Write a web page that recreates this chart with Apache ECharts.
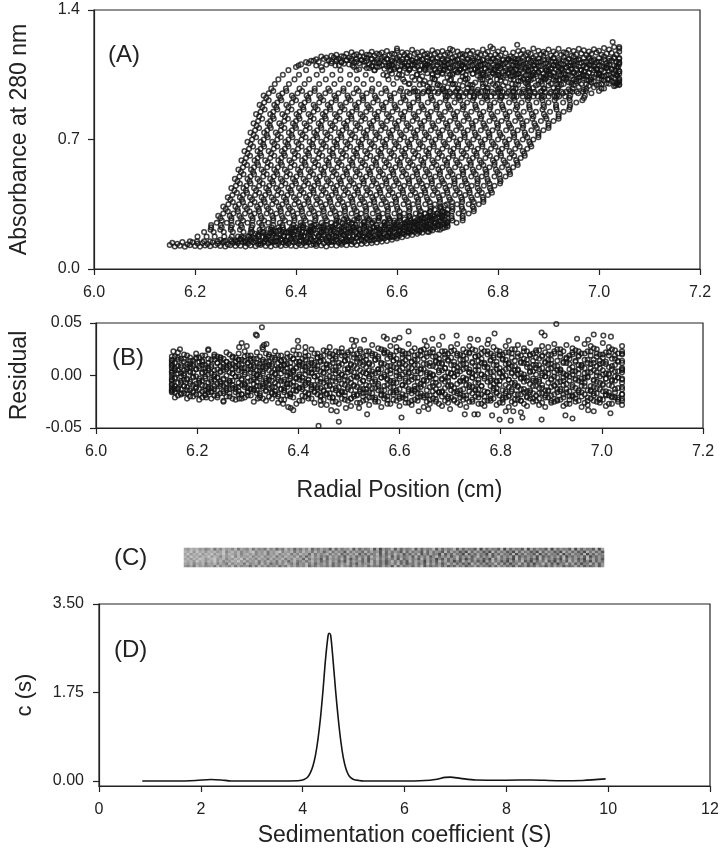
<!DOCTYPE html>
<html><head><meta charset="utf-8">
<style>html,body{margin:0;padding:0;background:#fff}#c{width:722px;height:853px}</style>
<script src="https://cdn.jsdelivr.net/npm/echarts@6/dist/echarts.min.js"></script>
</head><body><div id="c"></div>
<script>
// Panel A: radial positions (thousandths of a cm beyond 6.0) at which each scan crosses an absorbance level
const L150=[190,204,218,230,245,257,272,284,299,311,326,338,353,365,380,392,407,419,434,446,461,473,488,500];
const L175=[205,223,239,258,273,292,307,326,342,361,376,395,410,429,445,464,479,498,513,532,548,567,582,600];
const L200=[218,237,257,275,296,313,335,352,373,391,412,429,451,468,489,507,528,545,567,584,605,623,644,663];
const L212=[231,250,271,289,311,328,350,368,389,407,429,447,469,486,508,526,547,565,587,605,626,644,666,685];
const L225=[232,253,271,293,312,334,352,374,392,414,432,455,473,495,513,535,553,575,593,616,634,656,674,695];
const L237=[232,251,273,291,314,332,355,373,395,414,436,455,477,496,518,536,559,577,599,618,640,659,681,700];
const L250=[243,263,285,304,327,345,368,387,409,428,451,470,492,511,534,552,575,594,616,635,658,676,699,718];
const L262=[253,272,295,314,337,355,378,397,419,438,461,480,503,521,544,563,586,605,627,646,669,687,710,730];
const L275=[250,272,291,314,332,355,374,397,416,439,458,481,500,522,541,564,583,606,625,648,667,690,708,730];
const L287=[246,269,288,311,330,353,372,395,414,437,456,479,498,520,539,563,582,605,624,647,666,689,708,730];
const L300=[256,276,299,318,342,361,384,403,426,445,468,487,510,529,552,572,595,614,637,656,679,699,722,742];
const L312=[265,285,308,327,350,370,393,412,435,455,477,497,520,539,562,582,605,624,647,666,690,709,732,752];
const L325=[261,284,303,326,345,369,388,411,431,454,473,497,516,539,559,582,601,625,644,667,687,710,729,752];
const L337=[256,280,299,323,342,366,385,408,428,451,471,495,514,537,557,580,600,623,643,666,686,709,728,750];
const L350=[266,287,310,330,353,373,397,416,440,459,483,503,526,546,569,589,613,632,656,675,699,719,742,762];
const L362=[275,295,318,338,361,381,405,425,448,468,492,512,535,555,578,598,622,642,665,685,709,729,752,771];
const L375=[270,293,313,336,356,380,400,424,443,467,487,511,531,554,574,598,618,642,661,685,705,729,749,771];
const L387=[265,289,309,332,352,376,396,420,440,464,484,508,528,551,571,595,615,639,659,683,703,727,747,770];
const L400=[274,295,319,339,363,383,407,427,451,471,495,515,539,559,583,603,627,647,671,691,715,735,759,780];
const L412=[283,303,327,347,371,391,415,435,459,479,503,523,547,567,591,612,636,656,680,700,724,744,768,788];
const L425=[278,301,321,345,365,389,410,434,454,478,498,522,542,566,586,611,631,655,675,699,719,743,763,786];
const L437=[272,296,317,341,361,385,406,430,450,474,494,518,539,563,583,607,628,652,672,696,716,740,760,784];
const L450=[281,302,327,347,371,392,416,436,460,481,505,525,550,570,594,614,639,659,683,704,728,748,772,793];
const L462=[289,310,334,355,379,400,424,444,469,489,514,534,559,579,603,624,649,669,693,714,738,759,783,804];
const L475=[284,308,328,353,373,398,419,443,464,488,509,534,554,579,599,624,645,669,690,714,735,760,780,805];
const L487=[279,304,324,349,370,394,415,440,461,485,506,531,552,576,597,622,643,667,688,713,734,759,779,804];
const L500=[288,310,335,356,381,401,426,447,472,493,518,539,564,585,610,631,655,676,701,722,747,768,793,815];
const L512=[296,317,342,363,388,409,434,455,480,501,526,547,572,593,618,640,664,685,710,731,756,777,803,824];
const L525=[291,315,336,361,382,408,429,454,475,500,521,546,567,592,613,639,660,685,706,731,752,777,799,823];
const L537=[286,311,332,357,378,404,425,450,471,497,518,543,564,589,610,636,657,682,703,729,750,775,796,821];
const L550=[295,317,343,364,389,411,436,457,482,504,529,550,576,597,622,643,669,690,715,737,762,783,808,830];
const L562=[303,325,350,372,397,419,444,465,490,512,537,559,584,606,631,652,678,699,724,746,771,793,818,839];
const L575=[298,323,344,370,391,417,438,464,485,511,532,558,579,605,626,652,673,699,720,746,767,793,814,838];
const L587=[292,318,339,365,387,412,434,460,481,507,528,554,575,601,622,648,670,695,717,743,764,790,811,836];
const L600=[301,324,349,371,397,418,444,466,491,513,539,560,586,608,633,655,681,702,728,750,775,797,823,845];
const L612=[309,331,357,378,404,426,452,474,499,521,547,569,594,616,642,663,689,711,737,758,784,806,832,853];
const L625=[304,329,351,376,398,424,446,472,493,519,541,567,589,614,636,662,684,710,732,757,779,805,827,852];
const L637=[298,324,346,372,394,420,441,467,489,515,537,563,585,610,632,658,680,706,728,753,775,801,823,849];
const L650=[307,330,356,378,404,426,451,473,499,521,547,569,595,617,643,664,690,712,738,760,786,808,834,858];
const L662=[315,337,363,385,411,434,459,481,507,529,555,577,603,625,651,673,699,721,747,769,795,817,843,866];
const L675=[310,335,357,383,405,432,454,480,502,528,550,576,598,624,646,672,695,721,743,769,791,817,839,864];
const L687=[304,330,353,379,401,427,450,476,498,524,546,572,595,621,643,669,692,718,740,766,788,814,837,862];
const L700=[313,336,363,385,411,434,460,482,508,531,557,579,606,628,654,676,703,725,751,774,800,822,849,870];
const L712=[321,344,370,393,419,442,468,490,517,539,565,588,614,637,663,685,712,734,761,783,809,832,858,880];
const L725=[316,342,364,391,413,440,462,489,511,538,560,587,609,636,658,685,707,734,756,783,805,832,854,880];
const L737=[310,337,360,386,409,436,458,485,507,534,557,584,606,633,655,682,705,732,754,781,803,830,853,880];
const L750=[319,343,370,392,419,442,469,492,518,541,568,591,618,640,667,690,717,740,766,789,816,839,866,890];
const L762=[327,350,377,400,427,450,477,500,527,550,577,600,627,649,676,700,727,750,776,799,826,849,877,900];
const L775=[322,348,371,398,421,449,472,499,522,549,572,599,622,649,672,700,723,750,773,800,823,850,874,900];
const L787=[316,344,367,394,417,445,468,495,518,546,569,596,619,646,670,697,720,748,771,798,821,848,872,900];
const L800=[325,349,377,400,428,451,478,502,529,553,580,603,631,654,682,705,732,756,783,807,834,857,885,910];
const L812=[333,356,384,407,435,459,486,510,537,561,589,612,640,663,691,715,742,766,793,817,845,868,896,920];
const L825=[327,354,378,405,429,457,481,509,532,560,584,612,636,663,687,715,739,767,790,818,842,870,894,920];
const L837=[321,349,373,401,425,453,477,505,528,556,580,608,633,660,684,712,736,764,787,815,839,867,891,920];
const L850=[330,355,383,407,435,459,487,511,539,563,591,615,643,667,695,719,747,771,799,823,851,875,903,930];
const L862=[338,363,391,415,443,468,496,520,548,573,601,625,653,678,706,730,758,783,811,835,863,888,916,941];
const L875=[333,361,385,414,438,467,491,520,544,573,597,626,650,679,703,732,756,785,809,838,862,891,915,942];
const L887=[328,357,381,410,435,463,488,517,541,570,595,624,648,677,701,730,755,784,808,837,862,890,915,943];
const L900=[337,363,392,417,446,470,499,524,553,578,607,632,661,685,714,739,768,793,822,847,876,900,929,955];
const L912=[346,371,400,425,454,479,508,533,562,588,617,642,671,696,725,750,779,804,833,859,888,912,942,967];
const L925=[341,369,395,424,449,479,504,533,558,588,613,642,668,697,722,752,777,806,831,861,886,915,941,970];
const L937=[336,366,392,421,446,476,502,531,556,586,612,641,667,696,722,752,777,806,832,862,887,917,943,972];
const L950=[346,373,403,428,458,484,514,540,569,595,625,651,681,706,736,762,792,818,847,873,903,929,959,985];
const L962=[355,381,412,437,467,494,524,550,579,606,636,662,692,718,748,775,804,831,861,887,917,943,974,1000];
const L975=[351,380,407,437,464,494,520,551,577,608,634,664,691,721,748,778,804,835,861,892,918,948,975,1005];
const L1000=[358,386,417,446,476,505,534,564,593,623,652,681,711,740,770,799,828,858,887,917,946,975,1005,1035];
const L1025=[365,397,426,459,488,521,550,583,612,645,674,707,736,769,798,831,860,893,922,955,984,1017];
const L1050=[374,406,441,472,507,538,573,604,639,670,705,736,771,802,837,868,903,934,969,1000,1034];
const L1075=[385,420,452,488,520,556,588,624,656,692,724,760,792,828,860,896,928,964,996,1032];
const L1100=[405,440,478,512,550,584,622,656,694,728,766,800,838,872,910,944,982,1016];
const L958=[620,632,641,653,662,674,683,695,704,716,725,737,746,758,767,779,788,800,809,821,830,842,851,863,872,884,893,905,914,926,935,947,956,968];
const L933=[700,711,723,732,744,753,765,774,786,795,807,816,828,837,849,858,870,879,891,900,912,921,933];
const absorbanceLevels=[150,175,200,212,225,237,250,262,275,287,300,312,325,337,350,362,375,387,400,412,425,437,450,462,475,487,500,512,525,537,550,562,575,587,600,612,625,637,650,662,675,687,700,712,725,737,750,762,775,787,800,812,825,837,850,862,875,887,900,912,925,937,950,962,975,1000,1025,1050,1075,1100,958,933];
const radialAtLevel=[L150,L175,L200,L212,L225,L237,L250,L262,L275,L287,L300,L312,L325,L337,L350,L362,L375,L387,L400,L412,L425,L437,L450,L462,L475,L487,L500,L512,L525,L537,L550,L562,L575,L587,L600,L612,L625,L637,L650,L662,L675,L687,L700,L712,L725,L737,L750,L762,L775,L787,L800,L812,L825,L837,L850,L862,L875,L887,L900,L912,L925,L937,L950,L962,L975,L1000,L1025,L1050,L1075,L1100,L958,L933];

// Panel A: plateau rows (each row ends at the right-hand end of its radial grid)
const plateauRadialA=[400,410,420,430,440,450,460,470,480,490,500,510,520,530,540,550,560,570,580,590,600,610,620,630,640,650,660,670,680,690,700,710,720,730,740,750,760,770,780,790,800,810,820,830,840,850,860,870,880,890,900,910,920,930,940,950,960,970,980,990,1000,1010,1020,1030,1040];
const plateauRadialB=[405,415,425,435,445,455,465,475,485,495,505,515,525,535,545,555,565,575,585,595,605,615,625,635,645,655,665,675,685,695,705,715,725,735,745,755,765,775,785,795,805,815,825,835,845,855,865,875,885,895,905,915,925,935,945,955,965,975,985,995,1005,1015,1025,1035];
const plateauA1=[1092,1106,1118,1126,1134,1148,1143,1152,1158,1150,1163,1171,1160,1172,1158,1174,1165,1170,1178,1163,1180,1172,1168,1185,1170,1176,1164,1182,1173,1178,1168,1184,1175,1162,1180,1178,1170,1186,1174,1192,1176,1188,1136,1170,1178,1184,1170,1192,1180,1174,1186,1176,1190,1172,1184,1178,1190,1182,1176,1188,1180,1194,1186,1200,1192];
const plateauB1=[1112,1126,1120,1135,1128,1144,1136,1148,1142,1155,1150,1146,1158,1152,1160,1148,1156,1162,1150,1158,1153,1163,1149,1160,1155,1164,1151,1158,1162,1150,1160,1156,1165,1148,1158,1162,1152,1160,1155,1166,1150,1135,1160,1156,1163,1152,1160,1166,1154,1162,1158,1168,1152,1160,1165,1156,1162,1170,1158,1164,1168,1160];
const plateauA2=[1092,1104,1112,1124,1118,1130,1126,1136,1128,1140,1134,1130,1142,1136,1128,1140,1133,1143,1130,1138,1134,1145,1131,1140,1136,1128,1142,1134,1146,1132,1138,1144,1130,1140,1135,1146,1133,1128,1141,1136,1147,1132,1140,1137,1148,1134,1142,1130,1144,1138,1148,1135,1141,1146,1134,1140,1148,1138,1144,1136];
const plateauB2=[1102,1110,1106,1116,1112,1120,1108,1118,1114,1122,1110,1119,1124,1112,1120,1116,1125,1110,1118,1123,1113,1121,1117,1126,1111,1119,1124,1114,1122,1108,1120,1126,1112,1118,1124,1115,1121,1110,1127,1116,1122,1112,1125,1118,1110,1123,1116,1128,1113,1120,1125,1117,1122,1112,1127,1119];
const plateauA3=[1086,1094,1090,1100,1096,1104,1092,1102,1098,1106,1093,1101,1105,1095,1103,1098,1107,1091,1100,1104,1096,1102,1090,1106,1098,1103,1094,1108,1097,1101,1092,1105,1099,1103,1093,1107,1096,1102,1090,1104,1098,1108,1094,1100,1106,1096,1103,1092,1105,1099,1107];
const plateauB3=[1072,1080,1076,1086,1078,1084,1074,1082,1088,1076,1083,1079,1086,1073,1081,1087,1077,1084,1075,1082,1089,1078,1083,1072,1086,1080,1076,1088,1079,1084,1074,1087,1081,1077,1085,1090,1078,1082,1075,1088,1080,1084,1076,1089,1081,1086];
const plateauA4=[1056,1064,1060,1070,1058,1066,1062,1071,1055,1067,1061,1072,1057,1065,1069,1059,1068,1054,1063,1070,1060,1066,1056,1072,1062,1068,1058,1070,1064,1055,1067,1061,1073,1059,1065,1070,1057,1068];
const plateauB4=[1036,1044,1040,1050,1038,1046,1042,1052,1035,1047,1041,1053,1037,1045,1049,1039,1048,1034,1043,1051,1040,1046,1036,1052,1042,1048,1038,1050];
const plateauA5=[1016,1024,1012,1028,1020,1030,1014,1026,1018,1032,1010,1024,1016,1030,1020,1012,1028,1018,1026,1008,1022];
const plateauA6=[1122,1132,1118,1128,1136,1120,1130,1124,1138,1118,1128,1134,1122,1130,1118,1136,1126,1120,1132,1124,1138,1118,1128,1134,1122,1130,1118,1136,1126,1120,1132,1124,1138,1118,1128,1134,1122,1130,1118,1136,1126,1120,1132,1124,1138,1118,1128,1134,1122,1130,1118,1136,1126,1120,1132,1124,1138,1118];
const plateauB5=[1092,1080,1098,1086,1074,1094,1082,1100,1088,1076,1096,1084,1102,1078,1090,1098,1082,1072,1094,1086,1100,1076,1088,1096,1080,1102,1084,1074,1092,1098,1086,1078,1100,1090,1076,1094,1082,1098,1074,1088,1102,1080,1092,1084,1098,1076,1090,1100,1082,1094,1086,1078,1096];
const plateauA7=[1044,1056,1034,1048,1060,1038,1052,1042,1058,1032,1046,1054,1036,1050,1062,1040,1030,1056,1044,1052,1034,1060,1048,1038,1054,1042,1058,1032,1050,1046,1062,1036,1056,1040,1052,1030,1048,1058,1034,1044,1060,1038,1054,1042,1050,1032,1056];
const plateauB6=[1012,1002,1022,996,1016,1006,1026,992,1010,1020,1000,1018,1028,994,1008,1024,1004,1014,990,1020,1010,1026,998,1016,1006,1022,992,1012,1028,1002,1018,996,1024,1008,1014,1000,1020,1010,994,1026,1004,1016,1002];
const plateauA8=[988,976,994,970,982,998,974,990,978,996,968,986,980,1000,972,992,984,976,996,970,988,980,998,974,992,978,986,1000,972,994,984,970,990,982,996,976,1002,988,994];
const plateauOutliersX=[1027,785,838,705,600,1040,1040,1040,1040,1038,1040,1036,1040,1040,1040,1033,1037];
const plateauOutliersY=[1227,1203,1212,1190,1192,1200,1175,1140,1115,1090,1068,1045,1030,1012,998,992,1006];

// Panel A: baseline rows
const baseRadialA=[150,160,170,180,190,200,210,220,230,240,250,260,270,280,290,300,310,320,330,340,350,360,370,380,390,400,410,420,430,440,450,460,470,480,490,500,510,520,530,540,550,560,570,580,590,600,610,620,630,640,650,660,670,680,690,700];
const baseRadialB=[155,165,175,185,195,205,215,225,235,245,255,265,275,285,295,305,315,325,335,345,355,365,375,385,395,405,415,425,435,445,455,465,475,485,495,505,515,525,535,545,555,565,575,585,595,605,615,625,635,645,655,665,675,685,695];
const baseA1=[130,122,126,120,128,124,121,127,123,129,125,122,128,124,126,121,127,123,130,125,122,128,124,129,126,123,128,125,130,124,127,122,129,126,131,128,133,130,135,138,140,143,148,152,158,165,172,178,184,190,196,202,208,214,220,228];
const baseB1=[142,136,146,134,144,138,140,135,145,137,143,133,141,139,147,136,144,134,142,138,146,135,143,137,145,136,141,144,134,147,139,143,148,141,146,150,144,152,149,155,158,160,165,170,175,182,188,194,200,206,213,220,226,232,240];
const baseA2=[158,152,160,155,163,150,158,165,153,161,156,148,162,155,159,164,151,157,163,154,160,166,152,158,164,156,161,167,159,163,170,165,172,176,180,186,192,198,205,212,218,224,230,236,242,250];
const baseB2=[175,170,178,168,182,172,176,184,169,179,174,185,171,180,186,173,177,183,170,181,175,187,172,178,184,176,188,180,186,192,190,198,204,208,214,222,230,236,242,250,256,264];
const baseA3=[196,190,200,186,194,204,188,198,192,206,185,197,203,191,199,208,187,195,201,193,207,198,190,204,197,210,202,214,210,220,226,232,240,246,254,262,270,278,286,296];
const baseB3=[216,208,224,212,204,220,214,226,206,218,228,210,222,216,230,208,220,226,214,232,218,224,212,234,226,238,232,244,250,256,264,272,280,288,296,306];
const baseA4=[148,160,142,168,152,138,164,146,172,156,142,166,150,174,144,160,136,170,154,146,176,140,162,150,172,158,168,154,176,166,182,172,186,194,200,208,214,222,228,236,244,252,258];
const baseB4=[186,198,178,192,206,182,196,188,202,176,194,208,184,198,178,204,190,182,200,210,186,196,180,206,192,214,200,218,210,224,232,238,246,254,262,270,278,288];
const baseA5=[226,236,220,232,242,224,238,228,246,222,234,244,226,240,230,248,224,236,244,232,252,240,258,250,266,274,282,290,300,310,320];
const baseB5=[258,268,252,264,276,256,270,260,280,254,272,262,282,268,286,276,292,300,310,320,332,344];

// Panel B: residuals (thousandths) on two staggered radial grids
const resRadialA=[150,162,174,186,198,210,222,234,246,258,270,282,294,306,318,330,342,354,366,378,390,402,414,426,438,450,462,474,486,498,510,522,534,546,558,570,582,594,606,618,630,642,654,666,678,690,702,714,726,738,750,762,774,786,798,810,822,834,846,858,870,882,894,906,918,930,942,954,966,978,990,1002,1014,1026,1040];
const resRadialB=[150,156,168,180,192,204,216,228,240,252,264,276,288,300,312,324,336,348,360,372,384,396,408,420,432,444,456,468,480,492,504,516,528,540,552,564,576,588,600,612,624,636,648,660,672,684,696,708,720,732,744,756,768,780,792,804,816,828,840,852,864,876,888,900,912,924,936,948,960,972,984,996,1008,1020,1032,1040];
const res1=[18,22,20,17,21,19,24,20,17,22,18,21,23,19,22,25,20,23,19,21,24,20,22,25,21,24,27,23,26,22,28,25,23,29,26,24,28,27,23,30,26,24,28,25,29,23,27,30,25,28,24,26,30,27,23,28,25,29,26,31,24,28,27,30,25,29,26,23,30,28,25,31,27,24,28];
const res2=[15,18,16,19,14,17,19,15,18,16,20,17,15,19,16,18,21,17,19,15,18,20,16,19,21,18,23,20,22,19,24,21,18,23,20,25,22,19,24,21,23,20,25,22,18,23,21,24,20,22,25,19,23,21,24,20,22,25,19,23,21,24,22,20,25,23,19,24,21,23,26,20,22,25,21,23];
const res3=[12,15,13,11,16,14,12,15,17,13,11,15,14,16,12,15,13,17,14,11,16,13,15,12,17,14,18,16,19,15,20,17,15,19,16,21,18,16,20,17,15,19,21,18,16,20,17,19,15,21,18,16,20,17,19,15,21,18,16,20,17,19,15,21,18,16,20,18,15,19,21,17,19,16,20];
const res4=[10,12,8,11,9,13,10,8,12,11,9,13,10,12,8,11,13,9,12,10,8,13,11,9,12,14,11,15,12,14,10,16,13,11,15,12,16,14,11,15,13,10,16,12,14,11,15,13,10,16,12,14,11,15,13,16,11,14,12,15,10,16,13,11,14,12,16,13,10,15,12,14,11,16,13,14];
const res5=[7,9,5,8,6,10,7,5,9,8,6,10,7,9,5,8,10,6,9,7,5,10,8,6,9,7,10,8,11,7,9,12,8,10,6,11,9,7,12,8,10,6,11,9,12,7,10,8,11,6,9,12,8,10,7,11,9,6,12,8,10,7,11,9,6,12,8,10,7,11,9,12,8,10,7];
const res6=[4,5,2,6,3,7,4,2,6,5,3,7,4,6,2,5,7,3,6,4,2,7,5,3,6,4,7,5,3,6,4,7,3,5,2,6,4,8,5,3,7,4,6,2,8,5,3,6,4,7,2,5,8,3,6,4,7,5,2,8,4,6,3,7,5,2,6,4,8,3,5,7,2,6,4,5];
const res7=[1,2,0,3,-1,2,1,-1,3,0,2,-1,1,3,0,2,-1,1,2,0,3,-1,1,2,0,3,-1,2,1,3,-1,0,2,1,3,-1,2,0,1,3,-2,2,1,0,3,-1,2,1,-2,3,0,1,2,-1,3,0,2,1,-2,3,1,0,2,-1,3,0,1,2,-2,3,0,1,2,-1,3];
const res8=[-2,-3,-1,-4,-2,-3,-1,-4,-2,-3,-5,-1,-3,-2,-4,-1,-3,-5,-2,-4,-1,-3,-2,-4,-1,-3,-5,-2,-4,-1,-3,-2,-5,-1,-4,-2,-3,-5,-1,-3,-4,-2,-5,-1,-3,-4,-2,-1,-5,-3,-2,-4,-1,-3,-5,-2,-4,-1,-3,-2,-5,-4,-1,-3,-2,-5,-1,-4,-3,-2,-5,-1,-3,-4,-2,-3];
const res9=[-5,-7,-4,-6,-8,-5,-7,-4,-6,-8,-5,-7,-9,-5,-6,-8,-4,-7,-5,-8,-6,-4,-7,-9,-5,-7,-9,-6,-8,-5,-10,-7,-9,-6,-8,-10,-5,-7,-9,-6,-10,-8,-5,-7,-9,-6,-10,-8,-5,-9,-7,-10,-6,-8,-5,-9,-7,-10,-6,-8,-5,-9,-7,-10,-6,-8,-9,-5,-7,-10,-6,-8,-9,-5,-7];
const res10=[-8,-10,-7,-11,-9,-7,-10,-12,-8,-10,-7,-11,-9,-12,-8,-10,-7,-11,-9,-12,-8,-10,-11,-7,-9,-12,-10,-13,-11,-9,-14,-11,-13,-10,-12,-14,-9,-11,-13,-10,-14,-12,-9,-11,-13,-15,-10,-12,-14,-9,-11,-13,-15,-10,-12,-14,-11,-9,-13,-15,-10,-12,-14,-11,-13,-9,-15,-12,-10,-14,-11,-13,-15,-10,-12,-13];
const res11=[-11,-13,-10,-14,-12,-15,-11,-13,-10,-14,-12,-15,-11,-13,-14,-10,-12,-15,-13,-11,-14,-12,-16,-11,-13,-15,-17,-14,-16,-13,-18,-15,-13,-17,-14,-19,-16,-14,-18,-15,-13,-17,-19,-15,-16,-18,-14,-17,-19,-15,-13,-18,-16,-14,-19,-17,-15,-18,-13,-16,-19,-17,-14,-18,-15,-13,-19,-16,-18,-14,-17,-15,-19,-16,-18];
const res12=[-14,-16,-13,-17,-15,-18,-14,-16,-19,-15,-17,-13,-18,-16,-14,-19,-15,-17,-20,-16,-18,-14,-19,-17,-15,-20,-18,-21,-17,-19,-22,-18,-20,-16,-21,-19,-23,-18,-20,-22,-17,-21,-19,-23,-18,-20,-22,-16,-21,-19,-23,-18,-20,-22,-17,-21,-19,-23,-18,-20,-22,-17,-21,-19,-23,-18,-20,-22,-16,-21,-19,-23,-18,-20,-21,-22];
const res13=[-16,-19,-17,-20,-18,-21,-16,-19,-17,-20,-22,-18,-21,-19,-17,-22,-20,-18,-23,-19,-21,-24,-20,-22,-18,-23,-21,-25,-22,-24,-20,-26,-23,-21,-25,-22,-27,-24,-21,-26,-23,-20,-25,-22,-27,-24,-21,-26,-23,-25,-20,-27,-24,-22,-26,-21,-25,-23,-27,-22,-24,-26,-21,-25,-23,-27,-20,-24,-26,-22,-25,-23,-27,-21,-24];
const res14=[-13,-21,-18,-22,-20,-23,-19,-22,-21,-24,-20,-23,-22,-19,-25,-21,-24,-22,-26,-23,-20,-27,-24,-22,-26,-24,-28,-25,-27,-23,-29,-26,-24,-28,-25,-30,-27,-23,-29,-26,-28,-24,-30,-27,-25,-29,-26,-23,-28,-30,-25,-27,-29,-24,-28,-26,-30,-27,-24,-29,-25,-28,-30,-26,-24,-29,-27,-25,-30,-28,-24,-26,-29,-27,-25,-28];
const res15=[14,17,16,14,17,13,16,18,15,13,17,15,18,14,16,13,18,15,14,17,16,13,18,15,17,19,21,18,22,20,17,23,19,21,18,22,20,23,17,21,19,23,18,22,20,17,23,21,19,22,18,21,23,19,20,22,17,21,23,19,22,18,20,23,21,17,22,19,21,23,18,20,22,19,21];
const res16=[9,7,10,8,11,9,7,10,12,8,11,9,7,12,10,8,9,11,7,10,12,8,9,11,10,13,10,12,9,14,11,13,10,12,15,11,9,14,12,10,13,15,11,9,13,12,14,10,15,11,13,9,12,14,10,15,12,9,13,11,14,10,12,15,9,13,11,14,10,12,15,11,13,9,14,12];
const res17=[3,5,2,4,6,3,5,1,4,6,2,5,3,6,1,4,5,2,6,3,4,1,5,3,6,2,4,5,1,6,3,5,2,4,6,1,5,3,7,2,4,6,3,1,5,7,2,4,6,3,5,1,7,4,2,6,3,5,1,4,7,2,6,3,5,1,4,6,2,7,3,5,1,4,6];
const res18=[-4,-2,-5,-3,-1,-5,-3,-6,-2,-4,-5,-1,-4,-6,-2,-3,-5,-1,-4,-6,-3,-2,-5,-4,-1,-6,-3,-5,-2,-4,-7,-1,-5,-3,-6,-2,-4,-7,-3,-5,-1,-6,-4,-2,-7,-3,-5,-1,-6,-4,-2,-7,-3,-5,-6,-1,-4,-7,-2,-5,-3,-6,-1,-4,-7,-2,-5,-3,-6,-1,-4,-7,-3,-5,-2,-4];
const res19=[-9,-12,-10,-8,-11,-9,-13,-10,-8,-12,-9,-11,-8,-13,-10,-12,-9,-11,-13,-8,-10,-12,-9,-13,-11,-14,-10,-12,-15,-11,-9,-13,-16,-12,-10,-14,-11,-16,-9,-13,-15,-11,-14,-10,-16,-12,-9,-15,-13,-11,-14,-10,-16,-12,-9,-15,-13,-11,-16,-14,-10,-12,-15,-9,-13,-16,-11,-14,-10,-15,-12,-9,-16,-13,-11];
const res20=[-15,-13,-17,-14,-16,-13,-18,-15,-14,-17,-13,-16,-18,-15,-13,-17,-14,-16,-18,-14,-17,-15,-13,-18,-16,-19,-17,-21,-18,-16,-22,-19,-17,-21,-23,-18,-20,-16,-22,-19,-24,-17,-21,-19,-23,-16,-20,-24,-18,-22,-17,-21,-24,-19,-16,-23,-20,-18,-24,-21,-17,-22,-19,-24,-16,-21,-23,-18,-20,-24,-17,-22,-19,-21,-23,-18];
const resOutliersX=[328,316,318,399,506,514,288,298,283,337,332,329,414,400,166,153,222,252,218,440,480,494,520,465,476,390,380,385,370,445,283,320,536,604,638,657,700,729,748,755,783,798,820,843,881,928,942,810,825,840,1017,984,973,618,569,530,590,713,685,665,650,788,776,881,887,910,984,1003,1018,951,973,740,755,816,575,600];
const resOutliersY=[46,39,38,33,34,33,31,28,27,30,29,27,27,27,25,23,25,-25,-21,-48,-44,-31,-31,-33,-34,-33,-30,-31,-27,-28,-22,-22,-37,-40,-34,-32,-32,-37,-37,-37,-38,-42,-43,-40,-42,-38,-41,-34,-34,-35,-36,-34,-33,42,37,34,34,38,37,35,33,40,34,41,38,49,39,38,37,35,34,35,34,33,35,36];

// Panel C: gel strip darkness (0 light – 9 dark), one string per row
const stripRows=[
"4536243543625345263544736253645374625364527463546374625473645374657364827365473628475637485736485637465847364758376485736584736485763748576384",
"3425342634253462534362543625374635246374526374536274635274836452637485362748563748263748526374859263748562738495627384956273849562738495627384",
"2324132423142534231425342635243625374265364253746253748263547382637485263748263549374826374958263748593726485937462859374628593748263748593746",
"3242312432143253423152435243625342635243726354827354627384627384526374638275364827364958374628495736485927364859273648592736485927364859263748",
"2413242314235243152434253425342635243526374253647253648253746382537462837465382746385274638527463852746385274639285746392857463829574638295746",
"3142314231423142342532425342634253426352437263542635274635284736528374625384736284736592847365928473659284736582947365829473658294736582947365",
"2314132423243153242534215342634215342635243625374263548263547263548273645827364582736458273648592736485927364859273648592736485926374859263748",
"3423243542635243526345263546253746253746352746354827364528374652839465283746528374652837465283746582937465829374658293746582937465829374658293"];

// Panel D: sedimentation distribution
const sedCoeff=[0.85,1.5,1.9,2.2,2.4,2.6,3.5,3.9,4.0,4.05,4.1,4.15,4.2,4.25,4.3,4.35,4.4,4.45,4.5,4.52,4.55,4.6,4.65,4.7,4.75,4.8,4.85,4.9,4.95,5.0,5.1,5.2,6.0,6.4,6.6,6.8,6.9,7.1,7.4,8,8.5,9,9.5,9.95];
const sedConc=[0,0,0.01,0.03,0.02,0,0,0.005,0.02,0.04,0.08,0.16,0.29,0.5,0.82,1.25,1.8,2.42,2.88,2.92,2.88,2.35,1.75,1.22,0.78,0.45,0.24,0.12,0.06,0.03,0.01,0,0,0.01,0.03,0.07,0.075,0.05,0.02,0.015,0.02,0.005,0.01,0.04];

const xOf=v=>6+v/1000;
const ptsA=[];
radialAtLevel.forEach((row,i)=>row.forEach(x=>ptsA.push([xOf(x),absorbanceLevels[i]/1000])));
function addRows(rows,grid,out){rows.forEach(r=>{const off=Math.max(0,grid.length-r.length);r.slice(0,grid.length).forEach((y,i)=>out.push([xOf(grid[i+off]),y/1000]));});}
addRows([plateauA1,plateauA2,plateauA3,plateauA4,plateauA5,plateauA6,plateauA7,plateauA8],plateauRadialA,ptsA);
addRows([plateauB1,plateauB2,plateauB3,plateauB4,plateauB5,plateauB6],plateauRadialB,ptsA);
plateauOutliersX.forEach((x,i)=>ptsA.push([xOf(x),plateauOutliersY[i]/1000]));
addRows([baseA1,baseA2,baseA3,baseA4,baseA5],baseRadialA,ptsA);
addRows([baseB1,baseB2,baseB3,baseB4,baseB5],baseRadialB,ptsA);
const ptsB=[];
[res1,res3,res5,res7,res9,res11,res13,res15,res17,res19].forEach(r=>r.forEach((y,i)=>ptsB.push([xOf(resRadialA[Math.min(i,resRadialA.length-1)]),y/1000])));
[res2,res4,res6,res8,res10,res12,res14,res16,res18,res20].forEach(r=>r.forEach((y,i)=>ptsB.push([xOf(resRadialB[Math.min(i,resRadialB.length-1)]),y/1000])));
resOutliersX.forEach((x,i)=>ptsB.push([xOf(x),resOutliersY[i]/1000]));
const stripData=[];
stripRows.forEach((s,r)=>[...s].forEach((c,i)=>stripData.push([i,r,+c])));
const stripCols=[...stripRows[0]].map((_,i)=>i), stripYs=stripRows.map((_,i)=>i);

const FONT='"Liberation Sans",Arial,sans-serif', INK='#222';
const line={show:true,onZero:false,lineStyle:{color:INK,width:1.2}};
const tick=l=>({show:true,length:l,lineStyle:{color:INK,width:1.2}});
const lab=(m,f)=>({show:true,margin:m,color:INK,fontFamily:FONT,fontSize:16,formatter:f,hideOverlap:false});
const nameStyle={color:INK,fontFamily:FONT,fontSize:23};
const ring={color:'transparent',borderColor:'#141414',borderWidth:1.5};
const grid=(l,t,w,h)=>({left:l,top:t,width:w,height:h,show:true,borderColor:INK,borderWidth:1.2,backgroundColor:'transparent'});
const panel=(t,x,y)=>({type:'text',left:x,top:y,silent:true,style:{text:t,font:'24px '+FONT,fill:INK}});
const chart=echarts.init(document.getElementById('c'),null,{renderer:'canvas'});
chart.setOption({
 animation:false,backgroundColor:'#fff',
 grid:[grid(90,10,610,259),grid(94,323,609,105),{left:184,top:548,width:420,height:19,show:false},grid(99,604,611,182)],
 xAxis:[
  {gridIndex:0,type:'value',min:6,max:7.2,interval:0.2,splitLine:{show:false},axisLine:line,axisTick:tick(6),axisLabel:lab(16,v=>v.toFixed(1))},
  {gridIndex:1,type:'value',min:6,max:7.2,interval:0.2,splitLine:{show:false},axisLine:line,axisTick:tick(6),axisLabel:lab(16,v=>v.toFixed(1)),name:'Radial Position (cm)',nameLocation:'middle',nameGap:51,nameTextStyle:nameStyle},
  {gridIndex:2,type:'category',data:stripCols,show:false},
  {gridIndex:3,type:'value',min:0,max:12,interval:2,splitLine:{show:false},axisLine:line,axisTick:tick(6),axisLabel:lab(16,v=>v.toFixed(0)),name:'Sedimentation coefficient (S)',nameLocation:'middle',nameGap:38,nameTextStyle:nameStyle}
 ],
 yAxis:[
  {gridIndex:0,type:'value',min:0,max:1.4,interval:0.7,splitLine:{show:false},axisLine:line,axisTick:tick(6),axisLabel:lab(14,v=>v.toFixed(1)),name:'Absorbance at 280 nm',nameLocation:'middle',nameGap:63,nameTextStyle:nameStyle},
  {gridIndex:1,type:'value',min:-0.05,max:0.05,interval:0.05,splitLine:{show:false},axisLine:line,axisTick:tick(6),axisLabel:lab(14,v=>v.toFixed(2)),name:'Residual',nameLocation:'middle',nameGap:65,nameTextStyle:nameStyle},
  {gridIndex:2,type:'category',data:stripYs,show:false},
  {gridIndex:3,type:'value',min:-0.1,max:3.5,splitLine:{show:false},axisLine:line,
   axisTick:{show:true,length:6,lineStyle:{color:INK,width:1.2},customValues:[0,1.75,3.5]},
   axisLabel:Object.assign(lab(15,v=>v.toFixed(2)),{customValues:[0,1.75,3.5]}),
   name:'c (s)',nameLocation:'middle',nameGap:63,nameTextStyle:Object.assign({},nameStyle,{fontSize:22})}
 ],
 visualMap:{show:false,seriesIndex:2,min:0,max:9,inRange:{color:['#d4d4d4','#484848']}},
 series:[
  {type:'scatter',xAxisIndex:0,yAxisIndex:0,data:ptsA,symbolSize:4.6,itemStyle:ring,clip:false,silent:true},
  {type:'scatter',xAxisIndex:1,yAxisIndex:1,data:ptsB,symbolSize:4.6,itemStyle:ring,clip:false,silent:true},
  {type:'heatmap',xAxisIndex:2,yAxisIndex:2,data:stripData,silent:true,progressive:0},
  {type:'line',xAxisIndex:3,yAxisIndex:3,data:sedCoeff.map((s,i)=>[s,sedConc[i]]),smooth:0.3,showSymbol:false,lineStyle:{color:'#141414',width:1.6},silent:true}
 ],
 graphic:[panel('(A)',108,43),panel('(B)',112,346),panel('(C)',114,546),panel('(D)',114,638)]
});
</script></body></html>
